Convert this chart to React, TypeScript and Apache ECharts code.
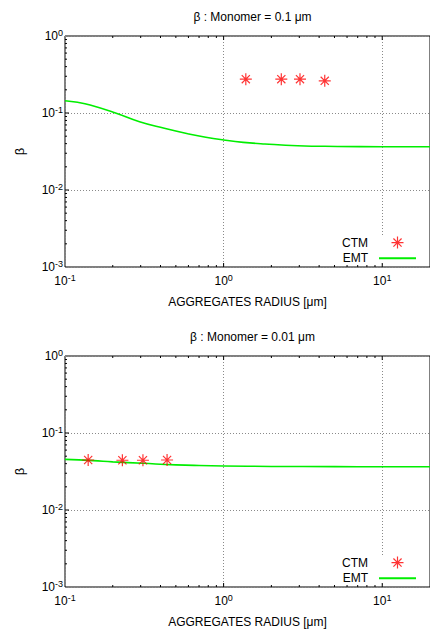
import React, { useEffect, useRef } from 'react';
import * as echarts from 'echarts';

const titles = ['β : Monomer = 0.1 μm', 'β : Monomer = 0.01 μm'];
const xAxisName = 'AGGREGATES RADIUS [μm]';
const yAxisName = 'β';
const legendNames = ['CTM', 'EMT'];

const ctmTopX = [1.38, 2.31, 3.03, 4.34];
const ctmTopY = [0.275, 0.275, 0.275, 0.262];
const ctmBottomX = [0.14, 0.23, 0.31, 0.44];
const ctmBottomY = [0.0446, 0.0443, 0.0443, 0.0446];

const emtTopX = [0.1, 0.12, 0.144, 0.206, 0.295, 0.423, 0.605, 0.772, 1.0, 1.33, 1.82, 2.93, 5.21, 10, 20];
const emtTopY = [0.1445, 0.1377, 0.127, 0.1009, 0.0771, 0.0633, 0.0533, 0.0483, 0.0446, 0.0416, 0.0396, 0.0376, 0.0368, 0.0365, 0.0365];
const emtBottomX = [0.1, 0.15, 0.2, 0.31, 0.5, 0.7, 1, 2, 5, 10, 20];
const emtBottomY = [0.0455, 0.0438, 0.0422, 0.0404, 0.0386, 0.0378, 0.0373, 0.0368, 0.0366, 0.0365, 0.0365];

const xMin = 0.1;
const xMax = 20;
const yMin = 0.001;
const yMax = 1;
const xMajorTicks = [1, 10];
const xMinorTicks = [0.2, 0.3, 0.4, 0.5, 0.6, 0.7, 0.8, 0.9, 2, 3, 4, 5, 6, 7, 8, 9];
const yMajorTicks = [0.01, 0.1];
const yMinorTicks = [
  0.002, 0.003, 0.004, 0.005, 0.006, 0.007, 0.008, 0.009,
  0.02, 0.03, 0.04, 0.05, 0.06, 0.07, 0.08, 0.09,
  0.2, 0.3, 0.4, 0.5, 0.6, 0.7, 0.8, 0.9,
];

const FONT = '"Liberation Sans", Arial, Helvetica, sans-serif';
const ASTERISK = 'path://M0,5L10,5M5,0L5,10M1.6,1.6L8.4,8.4M1.6,8.4L8.4,1.6';
const GREEN = '#00ee00';
const RED = '#ff0000';

const GRID_LEFT = 65;
const GRID_WIDTH = 369;
const GRID_HEIGHT = 231;
const GRID_TOPS = [36, 356];

function powLabel(v: number) {
  const e = Math.log10(v);
  const r = Math.round(e);
  if (Math.abs(e - r) > 1e-6) return '';
  return `{b|10}{s|${r}}`;
}

const richLabel = {
  b: { fontSize: 12, fontFamily: FONT, color: '#000', lineHeight: 14, verticalAlign: 'middle' },
  s: { fontSize: 9, fontFamily: FONT, color: '#000', lineHeight: 9, padding: [0, 0, 7, 0], verticalAlign: 'middle' },
};

function tickData() {
  // [x, y, kind, major]; kind 0 = bottom edge, 1 = top edge, 2 = left edge
  const d: number[][] = [];
  xMajorTicks.forEach((x) => { d.push([x, yMin, 0, 1]); d.push([x, yMax, 1, 1]); });
  xMinorTicks.forEach((x) => { d.push([x, yMin, 0, 0]); d.push([x, yMax, 1, 0]); });
  yMajorTicks.forEach((y) => d.push([xMin, y, 2, 1]));
  yMinorTicks.forEach((y) => d.push([xMin, y, 2, 0]));
  return d;
}

function renderTick(params: any, api: any) {
  const p = api.coord([api.value(0), api.value(1)]);
  const kind = api.value(2);
  const len = api.value(3) ? 4 : 2;
  let x2 = p[0];
  let y2 = p[1];
  if (kind === 0) y2 = p[1] - len;
  else if (kind === 1) y2 = p[1] + len;
  else x2 = p[0] + len;
  return {
    type: 'line',
    shape: { x1: p[0], y1: p[1], x2, y2 },
    style: { stroke: '#000', lineWidth: 1 },
  };
}

function buildOption() {
  const grids = GRID_TOPS.map((top) => ({
    left: GRID_LEFT,
    top,
    width: GRID_WIDTH,
    height: GRID_HEIGHT,
    show: true,
    borderColor: '#000',
    borderWidth: 1,
    backgroundColor: 'transparent',
    containLabel: false,
  }));

  const splitLine = { show: true, lineStyle: { color: '#8a8a8a', width: 1, type: [1, 2] } };

  const xAxes = GRID_TOPS.map((_, i) => ({
    type: 'log',
    logBase: 10,
    gridIndex: i,
    min: xMin,
    max: xMax,
    axisLine: { show: false },
    axisTick: { show: false },
    splitLine,
    axisLabel: {
      formatter: powLabel,
      margin: 7,
      rich: richLabel,
      showMaxLabel: false,
    },
    name: xAxisName,
    nameLocation: 'middle',
    nameGap: 29,
    nameTextStyle: { fontSize: 12, fontFamily: FONT, color: '#000' },
  }));

  const yAxes = GRID_TOPS.map((_, i) => ({
    type: 'log',
    logBase: 10,
    gridIndex: i,
    min: yMin,
    max: yMax,
    axisLine: { show: false },
    axisTick: { show: false },
    splitLine,
    axisLabel: {
      formatter: powLabel,
      margin: 2,
      rich: richLabel,
    },
    name: yAxisName,
    nameLocation: 'middle',
    nameGap: 39,
    nameTextStyle: { fontSize: 13, fontFamily: FONT, color: '#000' },
  }));

  const series: any[] = [];
  const ctmSets = [
    { xs: ctmTopX, ys: ctmTopY },
    { xs: ctmBottomX, ys: ctmBottomY },
  ];
  const emtSets = [
    { xs: emtTopX, ys: emtTopY },
    { xs: emtBottomX, ys: emtBottomY },
  ];
  GRID_TOPS.forEach((_, i) => {
    series.push({
      name: legendNames[1],
      type: 'line',
      xAxisIndex: i,
      yAxisIndex: i,
      data: emtSets[i].xs.map((x, k) => [x, emtSets[i].ys[k]]),
      symbol: 'none',
      showSymbol: false,
      smooth: 0.5,
      lineStyle: { color: GREEN, width: 1.6 },
      itemStyle: { color: GREEN },
      z: 3,
    });
    series.push({
      name: legendNames[0],
      type: 'scatter',
      xAxisIndex: i,
      yAxisIndex: i,
      data: ctmSets[i].xs.map((x, k) => [x, ctmSets[i].ys[k]]),
      symbol: ASTERISK,
      symbolSize: 12,
      symbolKeepAspect: true,
      itemStyle: { color: 'rgba(0,0,0,0)', borderColor: RED, borderWidth: 1.2 },
      z: 4,
    });
    series.push({
      type: 'custom',
      xAxisIndex: i,
      yAxisIndex: i,
      data: tickData(),
      encode: { x: 0, y: 1 },
      renderItem: renderTick,
      silent: true,
      clip: false,
      z: 5,
    });
  });

  const legends = GRID_TOPS.map((top) => ({
    orient: 'vertical',
    right: 13,
    top: top + 200,
    align: 'right',
    itemWidth: 37,
    itemHeight: 12,
    itemGap: 3,
    padding: 0,
    backgroundColor: '#fff',
    selectedMode: false,
    textStyle: { fontSize: 12, fontFamily: FONT, color: '#000', padding: [0, 6, 0, 0] },
    data: [
      { name: legendNames[0], icon: ASTERISK, itemStyle: { color: 'rgba(0,0,0,0)', borderColor: RED, borderWidth: 1.2 } },
      { name: legendNames[1], itemStyle: { opacity: 0, color: 'rgba(0,0,0,0)', borderWidth: 0 } },
    ],
  }));

  return {
    animation: false,
    backgroundColor: '#fff',
    title: GRID_TOPS.map((top, i) => ({
      text: titles[i],
      left: GRID_LEFT + GRID_WIDTH / 2 - 2,
      textAlign: 'center',
      top: top - 30,
      textStyle: { fontSize: 12, fontWeight: 'normal', fontFamily: FONT, color: '#000' },
    })),
    grid: grids,
    xAxis: xAxes,
    yAxis: yAxes,
    legend: legends,
    series,
  };
}

export default function App() {
  const ref = useRef<HTMLDivElement>(null);
  useEffect(() => {
    if (!ref.current) return;
    const chart = echarts.init(ref.current, undefined, { renderer: 'svg' });
    chart.setOption(buildOption() as any);
    return () => chart.dispose();
  }, []);
  return (
    <div
      ref={ref}
      style={{ position: 'absolute', left: 0, top: 0, width: 430, height: 629 }}
    />
  );
}
